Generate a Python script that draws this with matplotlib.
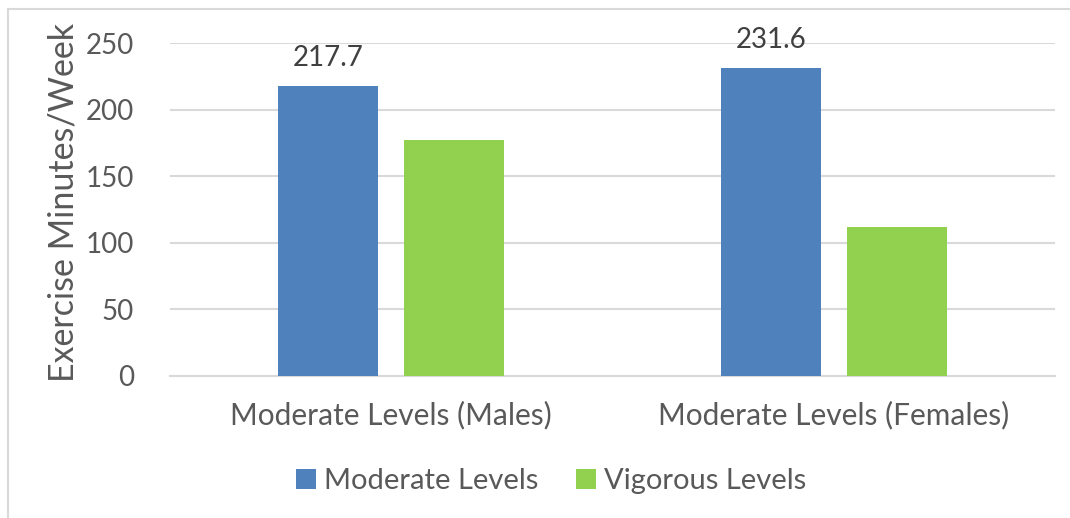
import numpy as np
import matplotlib
matplotlib.use("Agg")
from matplotlib import pyplot as plt
from matplotlib.patches import Rectangle

categories = ['Moderate Levels (Males)', 'Moderate Levels (Females)']
series_names = ['Moderate Levels', 'Vigorous Levels']
moderate = [217.7, 231.6]
vigorous = [177.0, 112.0]
yticks = [0, 50, 100, 150, 200, 250]

blue = '#4f81bd'
green = '#92d050'
grey = '#595959'

plt.rcParams['font.family'] = ['Lato', 'DejaVu Sans']

fig = plt.figure(figsize=(10.7, 5.18), dpi=100)
ax = fig.add_axes([170 / 1070, 1 - 376 / 518, 885 / 1070, 333 / 518])

x = np.arange(len(categories))
w = 0.226
gap = 0.059
b1 = ax.bar(x - (w + gap) / 2, moderate, w, color=blue, label=series_names[0], zorder=3)
b2 = ax.bar(x + (w + gap) / 2, vigorous, w, color=green, label=series_names[1], zorder=3)

# only the moderate bars carry labels
for rect, v in zip(b1, moderate):
    ax.text(rect.get_x() + rect.get_width() / 2, v + 11, "{}".format(v),
            ha='center', va='bottom', fontsize=20, color='#404040')

ax.set_xlim(-0.5, 1.5)
ax.set_ylim(0, 250)
ax.set_yticks(yticks)
ax.yaxis.grid(True, color='#d9d9d9', linewidth=1.5, zorder=0)
ax.set_xticks(x)
ax.set_xticklabels(categories)
ax.tick_params(axis='y', length=0, labelsize=20, labelcolor=grey, pad=26)
ax.tick_params(axis='x', length=0, labelsize=21.5, labelcolor=grey, pad=18)
for s in ['left', 'right', 'top']:
    ax.spines[s].set_visible(False)
ax.spines['bottom'].set_color('#d9d9d9')
ax.spines['bottom'].set_linewidth(1.5)

ax.set_ylabel('Exercise Minutes/Week', fontsize=24.5, color=grey)
ax.yaxis.set_label_coords(-0.102, 0.52)

fig.legend(handles=[b1, b2], labels=series_names, loc='center',
           bbox_to_anchor=(551 / 1070, 1 - 481 / 518), ncol=2, frameon=False,
           fontsize=21, labelcolor=grey, handlelength=0.7, handleheight=0.7,
           handletextpad=0.25, columnspacing=1.3)

# chart border
fig.patches.append(Rectangle((8 / 1070, -0.05), 1.1, 1 - 9 / 518 + 0.05,
                             transform=fig.transFigure, fill=False,
                             edgecolor='#d9d9d9', linewidth=1.5))

fig.savefig('out.png', dpi=100)
